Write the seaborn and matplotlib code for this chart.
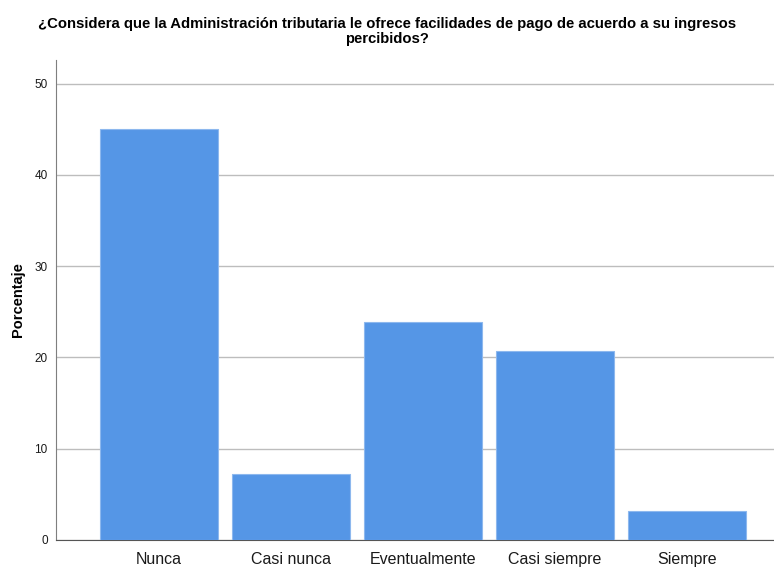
import matplotlib
matplotlib.use("Agg")
import matplotlib.pyplot as plt
import seaborn as sns
import pandas as pd

# data
categorias = ["Nunca", "Casi nunca", "Eventualmente", "Casi siempre", "Siempre"]
porcentaje = [45.0, 7.2, 23.9, 20.7, 3.2]

df = pd.DataFrame({"Respuesta": categorias, "Porcentaje": porcentaje})

sns.set_style("white")
plt.rcParams["font.family"] = ["Liberation Sans", "DejaVu Sans"]

fig = plt.figure(figsize=(7.74, 5.69), dpi=100)
ax = fig.add_axes([0.0724, 0.051, 0.9276, 0.8436])

sns.barplot(data=df, x="Respuesta", y="Porcentaje", color="#5596E6",
            width=0.9, saturation=1, edgecolor="#8DB8EE", linewidth=0.8,
            ax=ax, zorder=3)

ax.set_ylim(0, 52.6)
ax.set_xlim(-0.78, 4.66)
ax.set_yticks([0, 10, 20, 30, 40, 50])
ax.yaxis.grid(True, color="#BDBDBD", linewidth=1.0, zorder=0)
ax.set_axisbelow(True)

for side in ["top", "right"]:
    ax.spines[side].set_visible(False)
ax.spines["left"].set_color("#7F7F7F")
ax.spines["bottom"].set_color("#555555")

ax.tick_params(axis="x", length=0, pad=9, labelsize=11.5, colors="#1A1A1A")
ax.tick_params(axis="y", length=0, pad=6, labelsize=8.5, colors="#1A1A1A")

ax.set_xlabel("")
ax.set_ylabel("Porcentaje", fontsize=10.5, fontweight="bold", color="black")
ax.yaxis.set_label_coords(-0.043, 0.5)

fig.suptitle("¿Considera que la Administración tributaria le ofrece facilidades de pago de acuerdo a su ingresos\npercibidos?",
             fontsize=10.7, fontweight="bold", y=0.97, linespacing=1.05, color="black")

fig.savefig("out.png", dpi=100)
